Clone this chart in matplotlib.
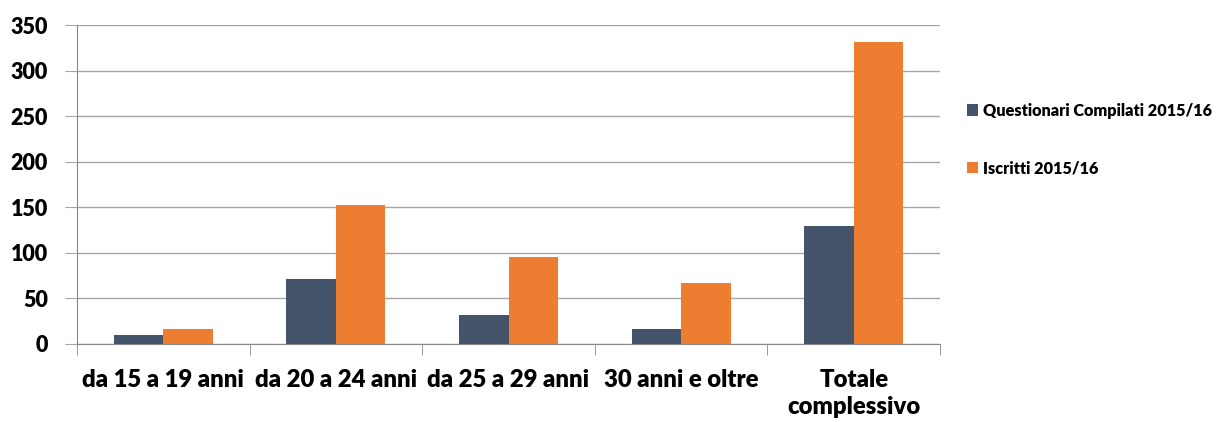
import matplotlib
matplotlib.use("Agg")
import matplotlib.pyplot as plt
import numpy as np

categories = ["da 15 a 19 anni", "da 20 a 24 anni", "da 25 a 29 anni", "30 anni e oltre", "Totale\ncomplessivo"]
questionari = [10, 71, 32, 16, 129]
iscritti = [16, 152, 96, 67, 331]
series_names = ["Questionari Compilati 2015/16", "Iscritti 2015/16"]
yticks = [0, 50, 100, 150, 200, 250, 300, 350]

plt.rcParams['font.family'] = ['Lato', 'DejaVu Sans']

fig = plt.figure(figsize=(12.23, 4.22), dpi=100)
ax = fig.add_axes([77/1223, 78/422, (940-77)/1223, (344-25)/422])

x = np.arange(len(categories))
w = 0.287
b1 = ax.bar(x - w/2, questionari, w, color="#44546A", edgecolor="none", zorder=3, label=series_names[0])
b2 = ax.bar(x + w/2, iscritti, w, color="#ED7D31", edgecolor="none", zorder=3, label=series_names[1])

ax.set_xlim(-0.5, len(categories) - 0.5)
ax.set_ylim(0, 350)
ax.set_yticks(yticks)
ax.set_yticklabels([str(v) for v in yticks], fontsize=15.5, fontweight='heavy')
ax.yaxis.grid(True, color="#A6A6A6", linewidth=1, zorder=0)
ax.tick_params(axis='y', length=9, color="#A6A6A6", pad=12)

ax.set_xticks(x)
ax.set_xticklabels(categories, fontsize=17.2, fontweight='heavy', linespacing=1.3)
ax.set_xticks(np.arange(-0.5, len(categories)), minor=True)
ax.tick_params(axis='x', which='major', length=0, pad=18)
ax.tick_params(axis='x', which='minor', length=8, color="#878787")

for s in ['top', 'right']:
    ax.spines[s].set_visible(False)
ax.spines['left'].set_color("#878787")
ax.spines['bottom'].set_color("#878787")

leg = fig.legend(handles=[b1, b2], labels=series_names, loc='upper left',
                 bbox_to_anchor=(952/1223, 1 - 88/422), frameon=False,
                 prop={'weight': 'heavy', 'size': 11.7}, labelspacing=2.55,
                 handlelength=0.7, handleheight=0.7, handletextpad=0.3)

fig.savefig("out.png", dpi=100)
